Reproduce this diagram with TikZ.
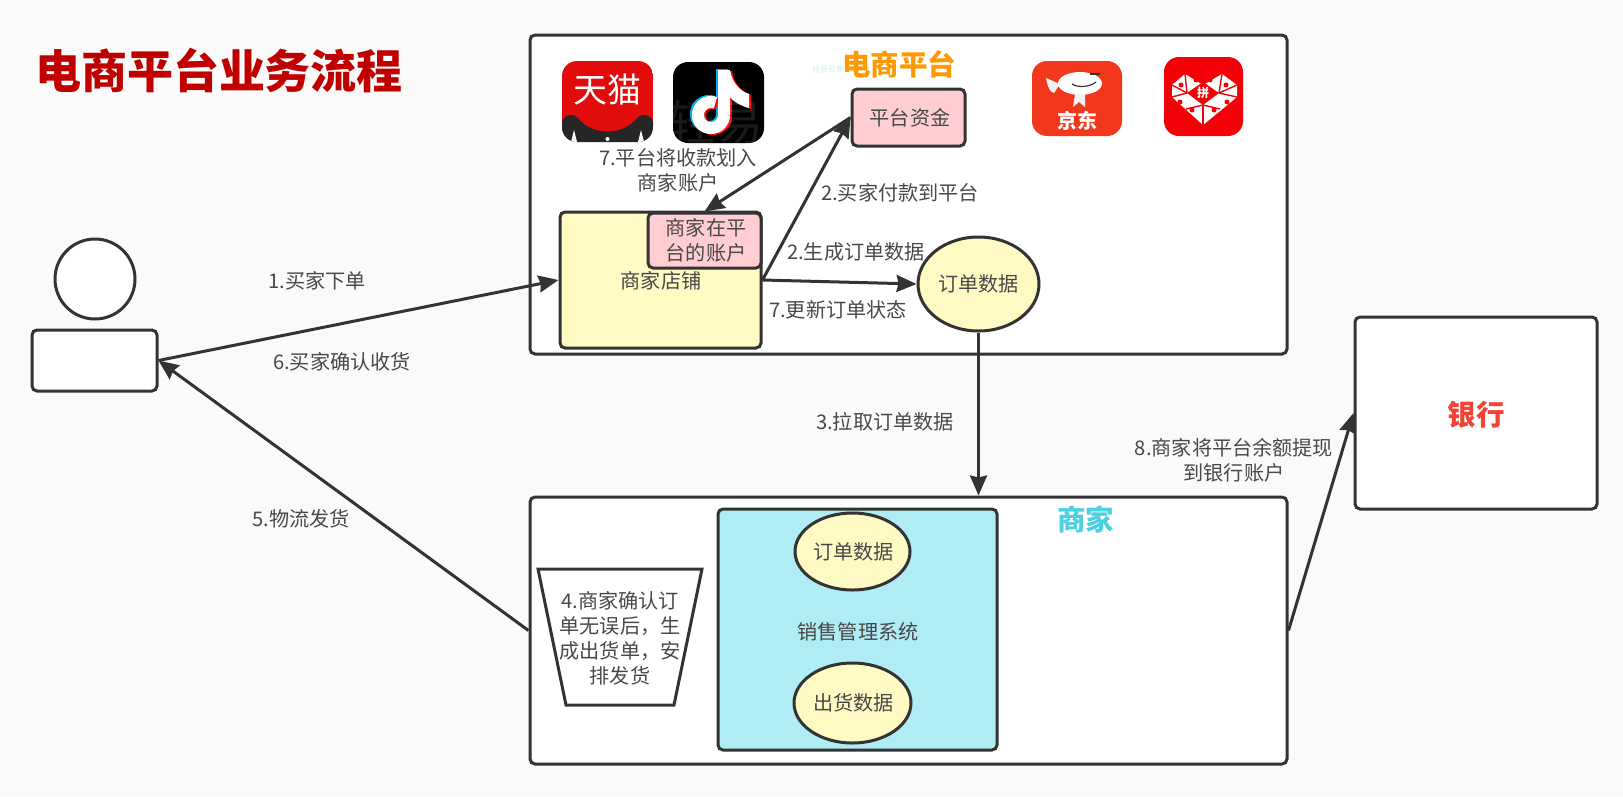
\documentclass[tikz,border=0pt]{standalone}
\usepackage{fontspec}
\setmainfont{Noto Sans CJK SC}
\usetikzlibrary{arrows.meta,shapes.geometric}
\definecolor{pagebg}{RGB}{250,250,250}
\definecolor{linegray}{RGB}{51,51,51}
\definecolor{txtgray}{RGB}{72,72,72}
\definecolor{titlered}{RGB}{192,0,0}
\definecolor{pinkbox}{RGB}{255,205,210}
\definecolor{yellowbox}{RGB}{255,249,196}
\definecolor{cyanbox}{RGB}{176,236,244}
\definecolor{orangetxt}{RGB}{255,153,0}
\definecolor{cyantxt}{RGB}{77,208,225}
\definecolor{banktxt}{RGB}{244,67,54}
\definecolor{tmallred}{RGB}{226,12,12}
\definecolor{jdred}{RGB}{242,56,28}
\definecolor{pddred}{RGB}{244,0,8}
\definecolor{marktxt}{RGB}{213,240,240}
\tikzset{
  bodytxt/.style={font=\fontsize{20.15}{25}\selectfont},
  headtxt/.style={font=\fontsize{28.5}{30}\bfseries\selectfont,inner sep=0pt},
  box/.style={draw=linegray,line width=3pt,rounded corners=5pt,fill=white,inner sep=0pt},
  oval/.style={ellipse,draw=linegray,line width=3pt,fill=yellowbox,inner sep=0pt,text=txtgray,bodytxt},
  lbl/.style={text=txtgray,bodytxt,align=center,inner sep=0pt},
  arr/.style={draw=linegray,line width=3pt,-{Stealth[length=20pt,width=17pt,inset=2pt]}},
  logo/.style={rounded corners=15pt}
}
\begin{document}
\begin{tikzpicture}[x=1pt,y=-1pt]
  \useasboundingbox[fill=pagebg] (0,0) rectangle (1623,796);
  \node[titlered,font=\fontsize{46}{50}\bfseries\selectfont,inner sep=0pt] (title) at (219,70) {电商平台业务流程};
  \node[box,minimum width=757pt,minimum height=319pt] (platform) at (908.5,194.5) {};
  \node[box,minimum width=757pt,minimum height=267pt] (merchant) at (908.5,630.5) {};
  \node[box,minimum width=242pt,minimum height=192pt] (bank) at (1476,413) {};
  \node[banktxt,headtxt] (banktitle) at (1476,415) {银行};
  \node[marktxt,font=\fontsize{8}{9}\selectfont,inner sep=0pt,anchor=west] (mark) at (812,69) {轻易云集};
  \node[orangetxt,headtxt] (platformtitle) at (899,64) {电商平台};
  \node[cyantxt,headtxt] (merchanttitle) at (1085.5,519) {商家};
  % buyer
  \node[circle,draw=linegray,line width=3pt,fill=white,minimum size=80pt,inner sep=0pt] (head) at (95,279) {};
  \node[box,minimum width=125pt,minimum height=61pt] (buyer) at (94.5,360.5) {};
  % logos
  \begin{scope}
    \clip[logo] (562,61) rectangle (653,142);
    \fill[tmallred] (562,61) rectangle (653,142);
    \fill[black!85] (562,142) -- (562,122) .. controls (564,115) and (572,112) .. (578,118) .. controls (592,136) and (623,136) .. (637,118) .. controls (643,112) and (651,115) .. (653,122) -- (653,142) -- cycle;
    \foreach \gx in {574,641}
      \fill[white] (\gx-3,142) -- (\gx,130) -- (\gx+3,142) -- cycle;
    \fill[white] (607.5,139) circle [radius=2];
  \end{scope}
  \node[white,font=\fontsize{34}{36}\selectfont,inner sep=0pt] (tmall) at (607.5,90) {天猫};
  \fill[black,logo] (673,62) rectangle (764,143);
  \foreach \gc/\gs in {cyan/-2,red/2,white/0}{
    \begin{scope}[shift={(\gs,\gs/2)}]
      \draw[\gc,line width=12pt] plot[domain=0:290,samples=30,smooth]({711+13*cos(\x)},{115+13*sin(\x)});
      \fill[\gc] (718,70) -- (730,70) .. controls (732,84) and (742,92) .. (749,94) -- (749,108) .. controls (742,106) and (735,103) .. (730,97) -- (730,115) -- (718,115) -- cycle;
    \end{scope}
  }
  \fill[jdred,logo] (1032,61) rectangle (1122,136);
  \fill[white] (1080,83.5) ellipse [x radius=22,y radius=11.5];
  \fill[white!90!gray] (1060,84) -- (1046,78) .. controls (1048,88) and (1050,92) .. (1054,93) -- cycle;
  \fill[white!90!gray] (1075,94) -- (1085,94) -- (1085,107) -- (1079,102) -- (1073,107) -- cycle;
  \draw[linegray,line width=1.2pt] (1072,84) .. controls (1078,88) and (1090,87) .. (1096,82);
  \fill[linegray] (1090,73) rectangle (1100,75);
  \node[white,font=\fontsize{20}{22}\bfseries\selectfont,inner sep=0pt] (jd) at (1077.5,120.5) {京东};
  \fill[pddred,logo] (1164,57) rectangle (1243,136);
  \fill[white] (1203,85) -- (1185,74) -- (1172,85) -- (1172,97) -- (1203,125) -- (1237,97) -- (1237,85) -- (1222,74) -- cycle;
  \fill[pddred] (1203,82) -- (1219,93) -- (1203,105) -- (1187,93) -- cycle;
  \foreach \gax/\gay/\gbx/\gby in {1187/93/1172/85,1187/93/1172/97,1187/93/1185/74,1219/93/1237/85,1219/93/1237/97,1219/93/1222/74,1203/105/1186/109,1203/105/1220/109,1203/105/1203/125}
    \draw[pddred,line width=1.4pt] (\gax,\gay) -- (\gbx,\gby);
  \foreach \gax/\gay in {1181/85,1196/80,1180/102,1192/110,1210/80,1226/85,1227/102,1214/110}
    \fill[pddred] (\gax,\gay) circle [radius=2.5];
  \node[white,font=\fontsize{12}{13}\bfseries\selectfont,inner sep=0pt] (pdd) at (1203,93) {拼};
  % platform
  \node[box,fill=pinkbox,minimum width=113pt,minimum height=57pt,text=txtgray,bodytxt] (funds) at (908.5,117.5) {};
  \node[lbl] (fundstxt) at (910,117.5) {平台资金};
  \node[box,fill=yellowbox,minimum width=201pt,minimum height=136pt] (store) at (660.5,280) {};
  \node[lbl] (storetxt) at (661,281) {商家店铺};
  \node[box,fill=pinkbox,minimum width=113pt,minimum height=55pt] (account) at (704.5,240.5) {};
  \node[lbl] (accounttxt) at (706,240.5) {商家在平\\台的账户};
  \node[oval,minimum width=121pt,minimum height=94pt] (orders) at (978.5,284) {订单数据};
  % merchant
  \node[box,fill=cyanbox,minimum width=279pt,minimum height=241pt] (system) at (857.5,629.5) {};
  \node[oval,minimum width=115pt,minimum height=77pt] (orderdata) at (852.5,551.5) {};
  \node[lbl] (orderdatatxt) at (853.5,551.5) {订单数据};
  \node[oval,minimum width=117pt,minimum height=80pt] (shipdata) at (852.5,703) {};
  \node[lbl] (shipdatatxt) at (853.5,703) {出货数据};
  \node[lbl] (systemtxt) at (858,632) {销售管理系统};
  \draw[draw=linegray,line width=3pt,fill=white] (538,569) -- (702,569) -- (674,705) -- (566,705) -- cycle;
  \node[lbl] (shipnote) at (620,638) {4.商家确认订\\单无误后，生\\成出货单，安\\排发货};
  % connectors
  \draw[arr] (buyer.east) -- (store.west);
  \draw[arr] (merchant.west) -- (buyer.east);
  \draw[arr] (store.east) -- (funds.west);
  \draw[arr] (funds.west) -- (account.north);
  \draw[arr] (store.east) -- (orders.west);
  \draw[arr] (orders.south) -- (orders.south |- merchant.north);
  \draw[arr] (merchant.east) -- (bank.west);
  % labels
  \node[lbl] (l1) at (317,281) {1.买家下单};
  \node[lbl] (l6) at (342,362) {6.买家确认收货};
  \node[lbl] (l5) at (301,519) {5.物流发货};
  \node[lbl] (l7a) at (678,170) {7.平台将收款划入\\商家账户};
  \node[lbl] (l2a) at (900,193) {2.买家付款到平台};
  \node[lbl] (l2b) at (856,252) {2.生成订单数据};
  \node[lbl] (l7b) at (838,310) {7.更新订单状态};
  \node[lbl] (l3) at (885,422) {3.拉取订单数据};
  \node[lbl] (l8) at (1234,460) {8.商家将平台余额提现\\到银行账户};
  % faint overlay
  \node[white,opacity=.1,font=\fontsize{48}{50}\selectfont,inner sep=0pt] (ghost) at (715,122) {轻易};
\end{tikzpicture}
\end{document}
